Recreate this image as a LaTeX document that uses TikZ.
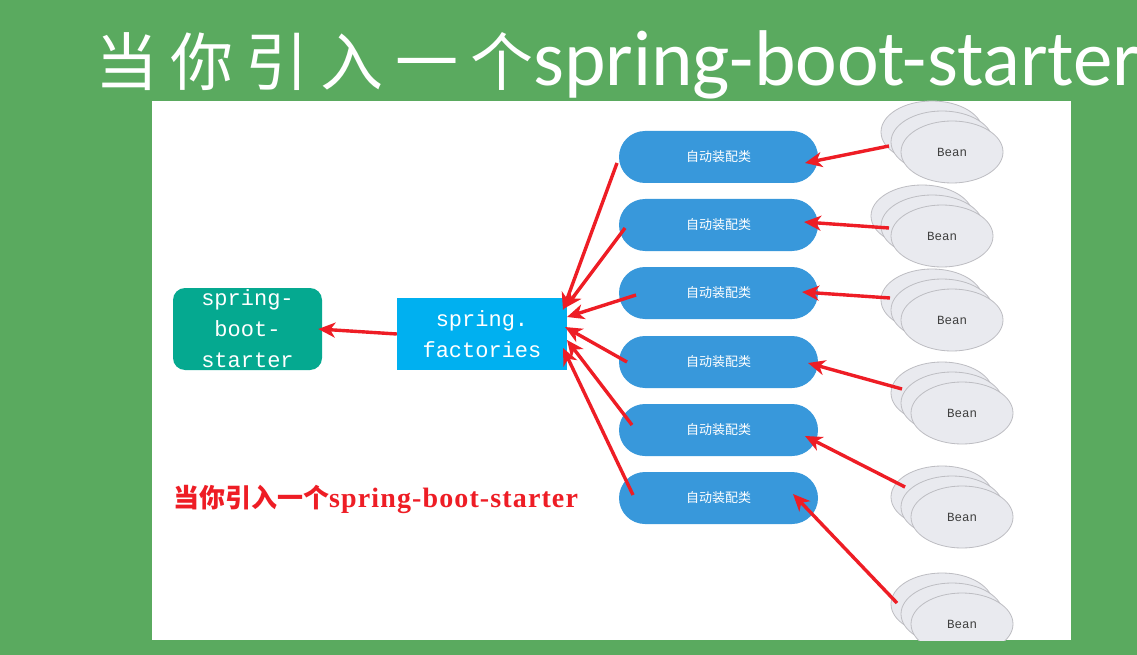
\documentclass[tikz,border=0pt]{standalone}
\usepackage{fontspec}
\setmainfont{Liberation Serif}
\newfontfamily\cjk{Noto Sans CJK SC}
\newfontfamily\monof{Liberation Mono}
\newfontfamily\titlef{Carlito}
\usetikzlibrary{arrows.meta,shapes.geometric}
\definecolor{bggreen}{HTML}{5AAA5F}
\definecolor{teal}{HTML}{05A990}
\definecolor{fblue}{HTML}{00B0F0}
\definecolor{pillblue}{HTML}{3898DB}
\definecolor{arred}{HTML}{EE1D25}
\definecolor{beanfill}{HTML}{E9EAEF}
\definecolor{beanline}{HTML}{BDBDC2}
\tikzset{
  arr/.style={draw=arred,line width=3.4pt,-{Stealth[length=17pt,width=15pt,inset=5pt]}},
  pill/.style={fill=pillblue,rounded corners=26pt,minimum width=199pt,minimum height=52pt,inner sep=0pt,text=white,font=\cjk\fontsize{13}{13}\selectfont},
  bean/.style={ellipse,fill=beanfill,draw=beanline,line width=0.8pt,minimum width=102pt,minimum height=62pt,inner sep=0pt,text=black!75,font=\monof\fontsize{12.5}{12.5}\selectfont},
  boxtext/.style={text=white,font=\monof\fontsize{22}{31}\selectfont,align=center,inner sep=0pt}
}
\begin{document}
\begin{tikzpicture}[x=1pt,y=-1pt]
\useasboundingbox (0,0) rectangle (1137,655);
\clip (0,0) rectangle (1137,655);
\fill[bggreen] (0,0) rectangle (1137,655);
\fill[white] (152,101) rectangle (1071,640);
% title
\node[anchor=base west,inner sep=0pt,text=white] (title) at (95,86)
  {\cjk\fontsize{63}{63}\selectfont 当\kern12pt 你\kern12pt 引\kern12pt 入\kern12pt 一\kern12pt 个{\titlef\fontsize{79}{79}\selectfont spring-boot-starter}};
% main boxes
\node[fill=teal,rounded corners=12pt,minimum width=149pt,minimum height=82pt,inner sep=0pt] (starter) at (247.5,329) {};
\node[boxtext] at (starter.center) {spring-\\boot-\\starter};
\node[fill=fblue,minimum width=170pt,minimum height=72pt,inner sep=0pt] (fact) at (482,334) {};
\node[boxtext] at (fact.center) {spring.\\factories};
% pills
\foreach \i/\y in {1/157,2/225,3/293,4/362,5/430,6/498}{
  \node[pill] (p\i) at (718.5,\y) {自动装配类};
}
% beans
\begin{scope}
\clip (152,101) rectangle (1071,640);
\foreach \i/\x/\y in {1/952/152,2/942/236,3/952/320,4/962/413,5/962/517,6/962/624}{
  \node[bean] (b\i c) at (\x-20,\y-20) {};
  \node[bean] (b\i b) at (\x-10,\y-10) {};
  \node[bean] (b\i) at (\x,\y) {Bean};
}
\end{scope}
% arrow endpoints
\coordinate (s1) at (889,146); \coordinate (t1) at (805,163);
\coordinate (s2) at (889,228); \coordinate (t2) at (804,222);
\coordinate (s3) at (890,298); \coordinate (t3) at (802,292);
\coordinate (s4) at (902,389); \coordinate (t4) at (808,363);
\coordinate (s5) at (905,487); \coordinate (t5) at (805,436);
\coordinate (s6) at (897,603); \coordinate (t6) at (793,494);
\foreach \i in {1,...,6}{ \draw[arr] (s\i) -- (t\i); }
\coordinate (u1) at (617,163); \coordinate (v1) at (563,310);
\coordinate (u2) at (625,228); \coordinate (v2) at (565,308);
\coordinate (u3) at (636,295); \coordinate (v3) at (567,317);
\coordinate (u4) at (627,362); \coordinate (v4) at (565,327);
\coordinate (u5) at (632,425); \coordinate (v5) at (567,340);
\coordinate (u6) at (633,495); \coordinate (v6) at (563,348);
\foreach \i in {1,...,6}{ \draw[arr] (u\i) -- (v\i); }
\draw[arr] (fact.west) -- ([xshift=-4pt]starter.east);
% caption
\node[anchor=base west,inner sep=0pt,text=arred] (cap) at (173,507)
  {\cjk\bfseries\fontsize{26}{26}\selectfont 当你引入一个{\rmfamily\bfseries\fontsize{28}{28}\selectfont\addfontfeature{LetterSpace=4}spring-boot-starter}};
\end{tikzpicture}
\end{document}
